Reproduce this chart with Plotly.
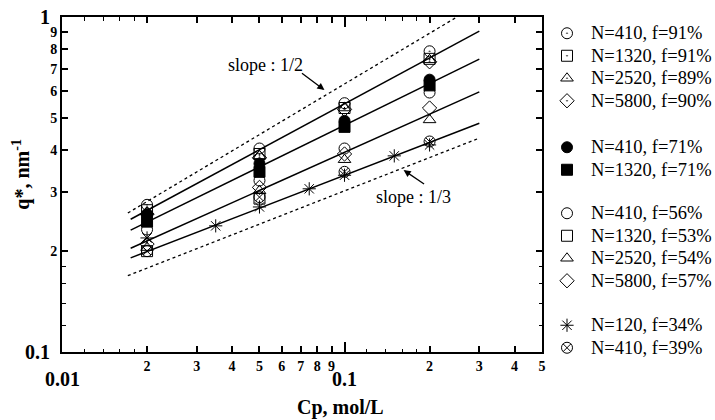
import math
import plotly.graph_objects as go

# ---------------- data ----------------
cp = [0.02, 0.05, 0.1, 0.2]
cp_short = [0.02, 0.05]
cp_star = [0.02, 0.035, 0.05, 0.075, 0.1, 0.15, 0.2]

q_410_91 = [0.275, 0.405, 0.553, 0.79]
q_1320_91 = [0.265, 0.39, 0.535, 0.75]
q_2520_89 = [0.262, 0.385, 0.535, 0.745]
q_5800_90 = [0.258, 0.38, 0.53, 0.735]
q_410_71 = [0.258, 0.365, 0.49, 0.65]
q_1320_71 = [0.245, 0.345, 0.47, 0.625]
q_410_56 = [0.232, 0.325, 0.405, 0.595]
q_1320_53 = [0.2, 0.287]
q_2520_54 = [0.205, 0.303, 0.375, 0.493]
q_5800_57 = [0.21, 0.31, 0.39, 0.535]
q_120_34 = [0.219, 0.238, 0.271, 0.307, 0.337, 0.385, 0.415]
q_410_39 = [0.2, 0.29, 0.345, 0.425]

fit_x = [0.0175, 0.3]
fit_f90 = [0.249, 0.908]
fit_f71 = [0.231, 0.749]
fit_f55 = [0.204, 0.598]
fit_f35 = [0.191, 0.482]

guide_half_x = [0.0171, 0.25]
guide_half_y = [0.26, 1.0]
guide_third_x = [0.0171, 0.3]
guide_third_y = [0.169, 0.435]

x_tickvals = [0.02, 0.03, 0.04, 0.05, 0.06, 0.07, 0.08, 0.09, 0.2, 0.3, 0.4, 0.5]
x_ticktext = ["2", "3", "4", "5", "6", "7", "8", "9", "2", "3", "4", "5"]
x_minor = [0.012, 0.014, 0.016, 0.018, 0.12, 0.14, 0.16, 0.18]
x_decades = [0.01, 0.1]
x_decade_text = ["0.01", "0.1"]

y_tickvals = [0.2, 0.3, 0.4, 0.5, 0.6, 0.7, 0.8, 0.9]
y_ticktext = ["2", "3", "4", "5", "6", "7", "8", "9"]
y_minor = [0.12, 0.14, 0.16, 0.18]
y_decades = [0.1, 1]
y_decade_text = ["0.1", "1"]

series = [
    ("N=410, f=91%", cp, q_410_91, "circle-open-dot", "legend"),
    ("N=1320, f=91%", cp, q_1320_91, "square-open-dot", "legend"),
    ("N=2520, f=89%", cp, q_2520_89, "triangle-up-open-dot", "legend"),
    ("N=5800, f=90%", cp, q_5800_90, "diamond-open-dot", "legend"),
    ("N=410, f=71%", cp, q_410_71, "circle", "legend2"),
    ("N=1320, f=71%", cp, q_1320_71, "square", "legend2"),
    ("N=410, f=56%", cp, q_410_56, "circle-open", "legend3"),
    ("N=1320, f=53%", cp_short, q_1320_53, "square-open", "legend3"),
    ("N=2520, f=54%", cp, q_2520_54, "triangle-up-open", "legend3"),
    ("N=5800, f=57%", cp, q_5800_57, "diamond-open", "legend3"),
    ("N=120, f=34%", cp_star, q_120_34, "asterisk-open", "legend4"),
    ("N=410, f=39%", cp, q_410_39, "circle-x-open", "legend4"),
]

SERIF = "Liberation Serif"

fig = go.Figure()

for fy in [fit_f90, fit_f71, fit_f55, fit_f35]:
    fig.add_trace(go.Scatter(x=fit_x, y=fy, mode="lines", showlegend=False,
                             line=dict(color="black", width=1.5), hoverinfo="skip"))
fig.add_trace(go.Scatter(x=guide_half_x, y=guide_half_y, mode="lines", showlegend=False,
                         line=dict(color="black", width=1.3, dash="dot"), hoverinfo="skip"))
fig.add_trace(go.Scatter(x=guide_third_x, y=guide_third_y, mode="lines", showlegend=False,
                         line=dict(color="black", width=1.3, dash="dot"), hoverinfo="skip"))

for name, xs, ys, sym, leg in series:
    fig.add_trace(go.Scatter(
        x=xs, y=ys, mode="markers",
        name="<span style='font-family:Liberation Serif;font-size:18.5px'>" + name + "</span>",
        legend=leg,
        marker=dict(symbol=sym, size=11, color="black",
                    line=dict(color="black", width=1)),
    ))

# axes
tickfont = dict(family=SERIF, size=14, color="black", weight="bold")
fig.update_xaxes(type="log", range=[math.log10(0.01), math.log10(0.5)],
                 tickmode="array", tickvals=x_tickvals, ticktext=x_ticktext,
                 ticks="inside", ticklen=6, tickwidth=1.5, tickcolor="black",
                 showline=True, linewidth=2, linecolor="black", mirror="ticks",
                 showgrid=False, zeroline=False, tickfont=tickfont, automargin=False,
                 minor=dict(tickvals=x_minor, ticks="inside", ticklen=3.5,
                            tickwidth=1.2, tickcolor="black", showgrid=False))
fig.update_yaxes(type="log", range=[-1, 0],
                 tickmode="array", tickvals=y_tickvals, ticktext=y_ticktext,
                 ticks="inside", ticklen=6, tickwidth=1.5, tickcolor="black",
                 showline=True, linewidth=2, linecolor="black", mirror="ticks",
                 showgrid=False, zeroline=False, tickfont=tickfont, automargin=False,
                 minor=dict(tickvals=y_minor, ticks="inside", ticklen=3.5,
                            tickwidth=1.2, tickcolor="black", showgrid=False))

# overlay axis for the longer decade tick at 0.1
fig.update_layout(xaxis2=dict(type="log", range=[math.log10(0.01), math.log10(0.5)],
                              overlaying="x", side="bottom", tickmode="array",
                              tickvals=[x_decades[1]], ticks="inside", ticklen=10,
                              tickwidth=1.5, tickcolor="black", showticklabels=False,
                              showline=False, mirror="ticks", showgrid=False,
                              zeroline=False, automargin=False))
fig.add_trace(go.Scatter(x=[x_decades[1]], y=[0.5], xaxis="x2", mode="markers",
                         marker=dict(size=0, opacity=0), showlegend=False, hoverinfo="skip"))

annots = []
big = dict(family=SERIF, size=20, color="black", weight="bold")
for v, t in zip(x_decades, x_decade_text):
    annots.append(dict(x=math.log10(v), y=-0.082, xref="x", yref="paper", text=t,
                       showarrow=False, font=big, xanchor="center", yanchor="middle"))
for v, t in zip(y_decades, y_decade_text):
    annots.append(dict(x=-0.02, y=math.log10(v), xref="paper", yref="y", text=t,
                       showarrow=False, font=big, xanchor="right", yanchor="middle"))
# axis titles
annots.append(dict(x=0.581, y=-0.167, xref="paper", yref="paper", text="Cp, mol/L",
                   showarrow=False, font=big, xanchor="center", yanchor="middle"))
annots.append(dict(x=-0.085, y=0.53, xref="paper", yref="paper",
                   text="q*, nm<sup>-1</sup>", textangle=-90,
                   showarrow=False, font=big, xanchor="center", yanchor="middle"))
# slope labels
lab = dict(family=SERIF, size=18, color="black")
annots.append(dict(x=-1.280, y=-0.143, xref="x", yref="y", text="slope : 1/2",
                   showarrow=False, font=lab, xanchor="center", yanchor="middle"))
annots.append(dict(x=-0.755, y=-0.537, xref="x", yref="y", text="slope : 1/3",
                   showarrow=False, font=lab, xanchor="center", yanchor="middle"))
annots.append(dict(x=-1.071, y=-0.218, xref="x", yref="y", text="", showarrow=True,
                   ax=-24, ay=-18, arrowhead=2, arrowsize=1.1, arrowwidth=1.3,
                   arrowcolor="black"))
annots.append(dict(x=-0.791, y=-0.457, xref="x", yref="y", text="", showarrow=True,
                   ax=22, ay=15, arrowhead=2, arrowsize=1.1, arrowwidth=1.3,
                   arrowcolor="black"))

W, H = 715, 420

def leg(top_px):
    return dict(xref="container", yref="container",
                x=543 / W, y=1 - top_px / H, xanchor="left", yanchor="top",
                font=dict(family=SERIF, size=15, color="black"),
                bgcolor="rgba(0,0,0,0)", borderwidth=0, itemwidth=38,
                tracegroupgap=0, itemclick=False, itemdoubleclick=False)

fig.update_layout(
    width=W, height=H,
    margin=dict(l=62, r=173, t=17, b=68, autoexpand=False),
    plot_bgcolor="white", paper_bgcolor="white",
    showlegend=True,
    legend=leg(17), legend2=leg(131), legend3=leg(197), legend4=leg(309),
    annotations=annots,
)

fig.write_html("out.html", config={"displayModeBar": False},
               post_script="document.body.style.margin='0';document.body.style.overflow='hidden';")
